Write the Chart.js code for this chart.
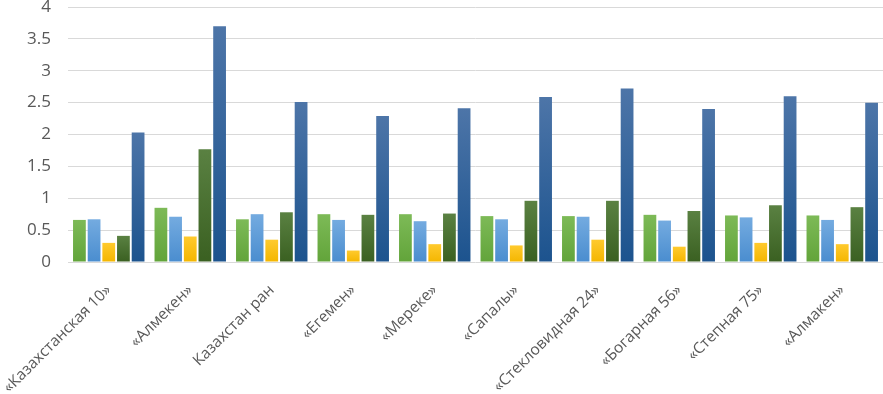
<!DOCTYPE html>
<html>
<head>
<meta charset="utf-8">
<script src="https://cdn.jsdelivr.net/npm/chart.js@4"></script>
<style>
  html, body { margin: 0; padding: 0; background: #fff; }
  #wrap { width: 883px; height: 394px; }
</style>
</head>
<body>
<div id="wrap"><canvas id="yieldChart"></canvas></div>
<script>
  const varieties = [
    "«Казахстанская 10»", "«Алмекен»", "Казахстан ран", "«Егемен»", "«Мереке»",
    "«Сапалы»", "«Стекловидная 24»", "«Богарная 56»", "«Степная 75»", "«Алмакен»"
  ];
  const series1 = [0.66, 0.85, 0.67, 0.75, 0.75, 0.72, 0.72, 0.74, 0.73, 0.73];
  const series2 = [0.67, 0.71, 0.75, 0.66, 0.64, 0.67, 0.71, 0.65, 0.70, 0.66];
  const series3 = [0.30, 0.40, 0.35, 0.18, 0.28, 0.26, 0.35, 0.24, 0.30, 0.28];
  const series4 = [0.41, 1.77, 0.78, 0.74, 0.76, 0.96, 0.96, 0.80, 0.89, 0.86];
  const series5 = [2.03, 3.70, 2.51, 2.29, 2.41, 2.59, 2.72, 2.40, 2.60, 2.50];
  const yTicks = [0, 0.5, 1, 1.5, 2, 2.5, 3, 3.5, 4];

  // bar fill: light at top, darker at the base, like the office gradient
  function barFill(top, bottom) {
    return function (c) {
      const chart = c.chart;
      if (!chart.chartArea || c.parsed === undefined) return bottom;
      const y = chart.scales.y;
      const y0 = y.getPixelForValue(0);
      const y1 = y.getPixelForValue(c.parsed.y);
      if (!isFinite(y1) || y0 === y1) return bottom;
      const g = chart.ctx.createLinearGradient(0, y1, 0, y0);
      g.addColorStop(0, top);
      g.addColorStop(1, bottom);
      return g;
    };
  }

  const ctx = document.getElementById("yieldChart").getContext("2d");
  const myChart = new Chart(ctx, {
    type: "bar",
    data: {
      labels: varieties,
      datasets: [
        { label: "1", data: series1, backgroundColor: barFill("#7dba57", "#62a43a") },
        { label: "2", data: series2, backgroundColor: barFill("#74abe0", "#4a8dcf") },
        { label: "3", data: series3, backgroundColor: barFill("#ffca2e", "#f4b600") },
        { label: "4", data: series4, backgroundColor: barFill("#5a8142", "#3a6021") },
        { label: "5", data: series5, backgroundColor: barFill("#4d75a8", "#1c538e") },
      ],
    },
    options: {
      responsive: true,
      maintainAspectRatio: false,
      animation: false,
      layout: { padding: { top: 7, right: 0, left: 0, bottom: 0 } },
      plugins: { legend: { display: false }, tooltip: { enabled: false } },
      datasets: { bar: { categoryPercentage: 0.9, barPercentage: 0.87 } },
      scales: {
        x: {
          grid: { display: false },
          border: { display: false },
          ticks: {
            color: "#595959",
            font: { family: "Open Sans", size: 15.5 },
            minRotation: 45,
            maxRotation: 45,
            padding: 11,
          },
          afterFit: (s) => {
            s.height = 132;
            s.paddingLeft = 0;
            s.paddingRight = 0;
          },
        },
        y: {
          min: 0,
          max: 4,
          afterBuildTicks: (s) => { s.ticks = yTicks.map((v) => ({ value: v })); },
          grid: { color: "#d9d9d9", lineWidth: 1, drawTicks: false },
          border: { display: false },
          ticks: {
            color: "#595959",
            font: { family: "Open Sans", size: 17 },
            padding: 17,
            callback: (v) => String(v),
          },
          afterFit: (s) => {
            s.width = 68;
            s.paddingTop = 0;
            s.paddingBottom = 0;
          },
        },
      },
    },
  });
</script>
</body>
</html>
